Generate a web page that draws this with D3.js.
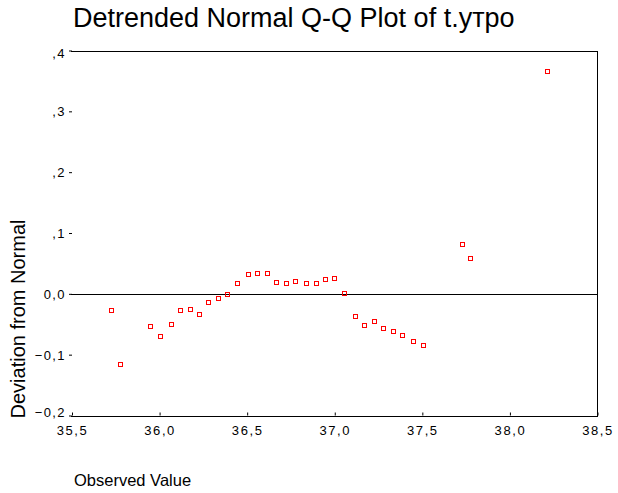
<!DOCTYPE html>
<html>
<head>
<meta charset="utf-8">
<script src="https://cdn.jsdelivr.net/npm/d3@7"></script>
<style>
  body { margin: 0; background: #fff; }
  text { font-family: "Liberation Sans", Arial, sans-serif; fill: #000; }
</style>
</head>
<body>
<div id="chart"></div>
<script>
let observed = [35.73, 35.78, 35.95, 36.01, 36.07, 36.12, 36.18, 36.23, 36.28, 36.34,
                36.39, 36.45, 36.51, 36.56, 36.62, 36.67, 36.73, 36.78, 36.84, 36.90,
                36.95, 37.00, 37.06, 37.12, 37.17, 37.23, 37.28, 37.34, 37.39, 37.45,
                37.51, 37.73, 37.78, 38.22];
let deviation = [-0.029, -0.117, -0.055, -0.071, -0.052, -0.028, -0.027, -0.034, -0.015, -0.009,
                 -0.002, 0.016, 0.031, 0.033, 0.032, 0.018, 0.016, 0.019, 0.016, 0.016,
                 0.023, 0.025, 0.000, -0.038, -0.053, -0.046, -0.058, -0.062, -0.070, -0.079,
                 -0.086, 0.081, 0.058, 0.364];
let xTicks = [35.5, 36.0, 36.5, 37.0, 37.5, 38.0, 38.5];
let yTicks = [0.4, 0.3, 0.2, 0.1, 0.0, -0.1, -0.2];

let width = 618,
    height = 493;

let plotLeft = 72, plotRight = 597.5, plotTop = 50.5, plotBottom = 415.5;

let svg = d3.select("#chart")
    .append("svg")
    .attr("width", width)
    .attr("height", height);

let x = d3.scaleLinear().domain([35.5, 38.5]).range([plotLeft, plotRight]);
let y = d3.scaleLinear().domain([-0.2, 0.4]).range([plotBottom, plotTop]);

let locale = d3.formatLocale({decimal: ",", thousands: " ", grouping: [3], currency: ["", ""]});
let f1 = locale.format(".1f");
let yFmt = function(d) { return d === 0 ? "0,0" : f1(d).replace(/^(-?)0/, "$1"); };

// title
svg.append("text")
    .attr("x", 73)
    .attr("y", 27)
    .style("font-size", "27px")
    .text("Detrended Normal Q-Q Plot of t.утро");

// x axis
let xAxis = svg.append("g")
    .attr("transform", "translate(0," + plotBottom + ")")
    .call(d3.axisBottom(x).tickValues(xTicks).tickFormat(f1).tickSizeInner(-3).tickSizeOuter(0));
xAxis.select(".domain").remove();
xAxis.selectAll("line").attr("stroke", "#000");
xAxis.selectAll("text")
    .attr("y", 19)
    .attr("dy", null)
    .style("font-size", "13px")
    .style("letter-spacing", "1.6px")
    .style("font-family", "'Liberation Sans', Arial, sans-serif");

// y axis
let yAxis = svg.append("g")
    .attr("transform", "translate(" + plotLeft + ",0)")
    .call(d3.axisLeft(y).tickValues(yTicks).tickFormat(yFmt).tickSizeInner(3).tickSizeOuter(0));
yAxis.select(".domain").remove();
yAxis.selectAll("line").attr("stroke", "#000");
yAxis.selectAll("text")
    .attr("x", -6)
    .attr("dy", function(d) { return d === 0.4 ? "0.5em" : (d === -0.2 ? "0.05em" : "0.35em"); })
    .style("font-size", "13px")
    .style("letter-spacing", "1.4px")
    .style("font-family", "'Liberation Sans', Arial, sans-serif");

// frame: top, bottom, right and the zero line
let frame = [
    [plotLeft - 1.5, y(0.4), plotRight, y(0.4)],
    [plotLeft - 1.5, y(-0.2), plotRight, y(-0.2)],
    [plotRight, y(0.4), plotRight, y(-0.2)],
    [plotLeft - 1.5, y(0), plotRight, y(0)]
];
svg.selectAll(".frame")
    .data(frame)
    .enter()
    .append("line")
    .attr("class", "frame")
    .attr("x1", function(d) { return d[0]; })
    .attr("y1", function(d) { return Math.round(d[1]) + 0.5; })
    .attr("x2", function(d) { return d[2]; })
    .attr("y2", function(d) { return Math.round(d[3]) + 0.5; })
    .style("stroke", "#000")
    .style("stroke-width", 1)
    .style("shape-rendering", "crispEdges");

// points
svg.selectAll(".pt")
    .data(observed)
    .enter()
    .append("rect")
    .attr("class", "pt")
    .attr("x", function(d) { return Math.round(x(d)) - 2.5; })
    .attr("y", function(d, i) { return Math.round(y(deviation[i])) - 2.5; })
    .attr("width", 4)
    .attr("height", 4)
    .style("fill", "none")
    .style("stroke", "#ff0000")
    .style("stroke-width", 1);

// axis titles
svg.append("text")
    .attr("transform", "translate(25,319) rotate(-90)")
    .attr("text-anchor", "middle")
    .style("font-size", "20px")
    .text("Deviation from Normal");

svg.append("text")
    .attr("x", 74)
    .attr("y", 486)
    .style("font-size", "16.5px")
    .text("Observed Value");
</script>
</body>
</html>
